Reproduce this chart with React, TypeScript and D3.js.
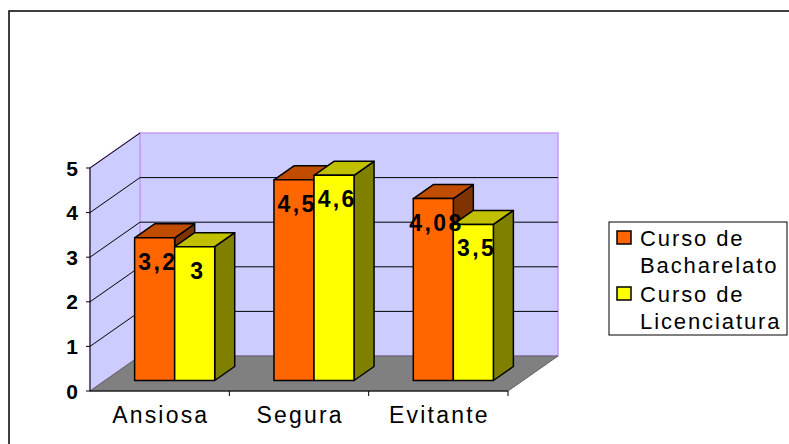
import React from "react";
import * as d3 from "d3";

// chart data
const categories = ["Ansiosa", "Segura", "Evitante"];
const seriesNames = ["Curso de Bacharelato", "Curso de Licenciatura"];
const bacharelato = [3.2, 4.5, 4.08];
const licenciatura = [3, 4.6, 3.5];
const yTicks = [0, 1, 2, 3, 4, 5];
const legendLines = [
  ["Curso de", "Bacharelato"],
  ["Curso de", "Licenciatura"],
];

const W = 789;
const H = 444;
const FONT = "'Liberation Sans', Arial, sans-serif";

// 3d depth of the plot
const DX = 50;
const DY = -35;
const Z0 = 0.3;
const Z1 = 0.7;

const colors = [
  { front: "#ff6600", top: "#c04c00", side: "#7f3300" },
  { front: "#ffff00", top: "#c0c000", side: "#808000" },
];

const fmt = (v: number) => String(v).replace(".", ",");

const App = () => {
  const x = d3.scaleBand().domain(categories).range([90, 508]);
  const xs = d3
    .scaleBand()
    .domain(seriesNames)
    .range([0, x.bandwidth()])
    .paddingInner(0)
    .paddingOuter(0.74);
  const y = d3.scaleLinear().domain([0, 5]).range([391, 168]);

  const [left, right] = x.range();
  const y0 = y(0);
  const yTop = y(5);

  const series = [bacharelato, licenciatura];

  const pts = (p: number[][]) => p.map((d) => d.join(",")).join(" ");

  const bars: any[] = [];
  categories.forEach((c, i) => {
    seriesNames.forEach((s, j) => {
      const v = series[j][i];
      const bx0 = (x(c) as number) + (xs(s) as number) + Z0 * DX;
      const bx1 = bx0 + xs.bandwidth();
      const ty = y(v) + Z0 * DY;
      const by = y0 + Z0 * DY;
      const ddx = (Z1 - Z0) * DX;
      const ddy = (Z1 - Z0) * DY;
      bars.push({ key: c + s, v, bx0, bx1, ty, by, ddx, ddy, col: colors[j] });
    });
  });

  // letter spaced text, middle anchor corrected for trailing spacing
  const sText = (
    tx: number,
    ty: number,
    str: string,
    size: number,
    ls: number,
    anchor: string,
    weight = "normal"
  ) => (
    <text
      x={anchor === "middle" ? tx + ls / 2 : anchor === "end" ? tx + ls : tx}
      y={ty}
      textAnchor={anchor as any}
      fontSize={size}
      fontWeight={weight}
      fontFamily={FONT}
      letterSpacing={ls}
      fill="#000"
    >
      {str}
    </text>
  );

  return (
    <svg
      width={W}
      height={H}
      style={{ position: "absolute", left: 0, top: 0, background: "#fff" }}
    >
      {/* chart frame */}
      <rect x={9} y={11} width={820} height={500} fill="#fff" stroke="#000" strokeWidth={1.5} />

      {/* back wall */}
      <rect
        x={left + DX}
        y={yTop + DY}
        width={right - left}
        height={y0 - yTop}
        fill="#ccccff"
        stroke="#c59cf8"
        strokeWidth={1.5}
      />
      {/* side wall */}
      <polygon
        points={pts([
          [left, y0],
          [left, yTop],
          [left + DX, yTop + DY],
          [left + DX, y0 + DY],
        ])}
        fill="#ccccff"
        stroke="#c59cf8"
        strokeWidth={1.5}
      />
      {/* floor */}
      <polygon
        points={pts([
          [left, y0],
          [right, y0],
          [right + DX, y0 + DY],
          [left + DX, y0 + DY],
        ])}
        fill="#808080"
        stroke="#606060"
        strokeWidth={1}
      />

      {/* gridlines */}
      {yTicks
        .filter((t) => t > 0)
        .map((t) => (
          <g key={"g" + t} stroke="#000" strokeWidth={1}>
            <line x1={left} y1={y(t)} x2={left + DX} y2={y(t) + DY} />
            {t < 5 && (
              <line x1={left + DX} y1={y(t) + DY} x2={right + DX} y2={y(t) + DY} />
            )}
          </g>
        ))}

      {/* axes */}
      <line x1={left} y1={yTop} x2={left} y2={y0} stroke="#000" strokeWidth={1} />
      <line x1={left} y1={y0} x2={right} y2={y0} stroke="#000" strokeWidth={1} />
      {yTicks.map((t) => (
        <g key={"t" + t}>
          <line x1={left - 4} y1={y(t)} x2={left} y2={y(t)} stroke="#000" />
          {sText(78, y(t) + 7.5, String(t), 21, 0, "end", "bold")}
        </g>
      ))}
      {categories.map((c) => (
        <line
          key={"xt" + c}
          x1={(x(c) as number) + x.bandwidth()}
          y1={y0}
          x2={(x(c) as number) + x.bandwidth()}
          y2={y0 + 5}
          stroke="#000"
        />
      ))}
      {categories.map((c) => (
        <g key={"xl" + c}>
          {sText((x(c) as number) + x.bandwidth() / 2, 423, c, 23, 2.2, "middle")}
        </g>
      ))}

      {/* bars */}
      {bars.map((b) => (
        <g key={b.key} stroke="#000" strokeWidth={1.5} strokeLinejoin="round">
          <polygon
            points={pts([
              [b.bx1, b.ty],
              [b.bx1, b.by],
              [b.bx1 + b.ddx, b.by + b.ddy],
              [b.bx1 + b.ddx, b.ty + b.ddy],
            ])}
            fill={b.col.side}
          />
          <polygon
            points={pts([
              [b.bx0, b.ty],
              [b.bx1, b.ty],
              [b.bx1 + b.ddx, b.ty + b.ddy],
              [b.bx0 + b.ddx, b.ty + b.ddy],
            ])}
            fill={b.col.top}
          />
          <rect x={b.bx0} y={b.ty} width={b.bx1 - b.bx0} height={b.by - b.ty} fill={b.col.front} />
        </g>
      ))}
      {bars.map((b) => (
        <g key={"l" + b.key}>
          {sText((b.bx0 + b.bx1) / 2 + 2, b.ty + 32, fmt(b.v), 23, 2.4, "middle", "bold")}
        </g>
      ))}

      {/* legend */}
      <rect x={609} y={222} width={178} height={113} fill="#fff" stroke="#000" strokeWidth={1} />
      {seriesNames.map((s, j) => (
        <g key={"lg" + s}>
          <rect
            x={617}
            y={231 + j * 56}
            width={14}
            height={13}
            fill={colors[j].front}
            stroke="#000"
            strokeWidth={1.5}
          />
          {sText(640, 246 + j * 56, legendLines[j][0], 22, 1.9, "start")}
          {sText(640, 273 + j * 56, legendLines[j][1], 22, 1.9, "start")}
        </g>
      ))}
    </svg>
  );
};

export default App;
